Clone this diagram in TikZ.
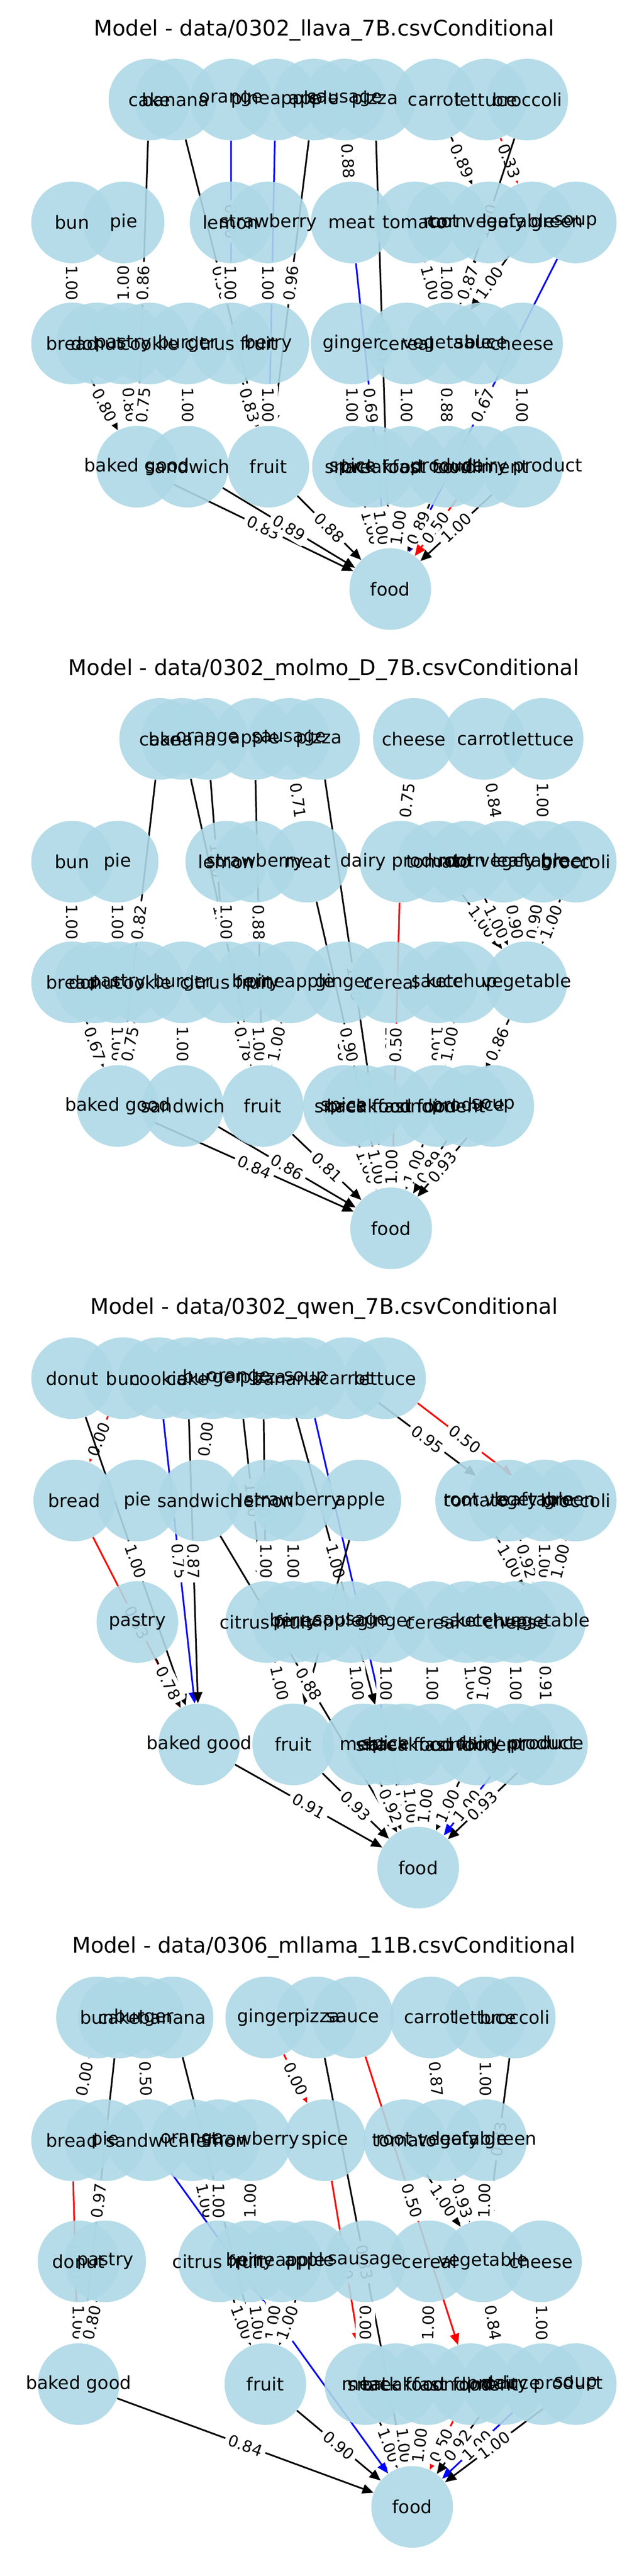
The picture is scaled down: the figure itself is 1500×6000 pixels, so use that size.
\documentclass[tikz,border=0pt]{standalone}
\usepackage{fontspec}
\setmainfont{DejaVu Sans}
\usetikzlibrary{arrows.meta}

\definecolor{nodeblue}{HTML}{ADD8E6}

\tikzset{
  fnode/.style={circle, minimum size=1.9cm, inner sep=0pt},
  flab/.style={font=\fontsize{11.9}{14}\selectfont, text=black},
  link/.style={line width=1.1pt, -{Triangle[length=2.6mm,width=2.2mm]}},
  elab/.style={sloped, fill=white, rounded corners=2pt, inner sep=2.5pt,
    font=\fontsize{10.4}{12}\selectfont, text=black},
  ttl/.style={font=\fontsize{14.2}{17}\selectfont},
}

% all nodes: name/x/y/label (pixels, y downwards)
\def\foodnodes{%
  % llava
  acake/348/232/cake, abanana/409/232/banana, aorange/538/232/orange,
  apineapple/642/232/pineapple, aapple/731/232/apple, asausage/803/232/sausage,
  apizza/873/232/pizza, acarrot/1012/232/carrot, alettuce/1132/232/lettuce,
  abroccoli/1228/232/broccoli,
  abun/168/518/bun, apie/288/518/pie, alemon/537/518/lemon,
  astrawberry/625/518/strawberry, ameat/819/518/meat, atomato/966/518/tomato,
  acorn/1041/518/corn, arootveg/1139/518/root vegetable,
  aleafy/1240/518/leafy green, asoup/1341/518/soup,
  abread/168/800/bread, adonut/226/800/donut, apastry/287/800/pastry,
  acookie/348/800/cookie, aburger/437/800/burger, acitrus/538/800/citrus fruit,
  aberry/625/800/berry, aginger/819/800/ginger, acereal/947/800/cereal,
  avegetable/1041/800/vegetable, asauce/1120/800/sauce, acheese/1216/800/cheese,
  abaked/319/1087/baked good, asandwich/437/1087/sandwich, afruit/625/1087/fruit,
  aspice/822/1087/spice, asnack/870/1087/snack food,
  abreakfast/947/1087/breakfast food, aproduce/1041/1087/produce,
  acondiment/1120/1087/condiment, adairy/1216/1087/dairy product,
  afood/909/1372/food,
  % molmo
  bcake/373/1721/cake, bbanana/424/1721/banana, borange/483/1721/orange,
  bapple/593/1721/apple, bsausage/673/1721/sausage, bpizza/743/1721/pizza,
  bcheese/964/1721/cheese, bcarrot/1127/1721/carrot, blettuce/1264/1721/lettuce,
  bbun/168/2007/bun, bpie/274/2007/pie, blemon/527/2007/lemon,
  bstrawberry/594/2007/strawberry, bmeat/716/2007/meat,
  bdairy/933/2007/dairy product, btomato/1021/2007/tomato, bcorn/1087/2007/corn,
  brootveg/1173/2007/root vegetable, bleafy/1264/2007/leafy green,
  bbroccoli/1341/2007/broccoli,
  bbread/168/2288/bread, bdonut/221/2288/donut, bpastry/274/2288/pastry,
  bcookie/332/2288/cookie, bburger/426/2288/burger, bcitrus/527/2288/citrus fruit,
  bberry/596/2288/berry, bpineapple/676/2288/pineapple, bginger/801/2288/ginger,
  bcereal/911/2288/cereal, bsauce/1019/2288/sauce, bketchup/1075/2288/ketchup,
  bvegetable/1226/2288/vegetable,
  bbaked/274/2576/baked good, bsandwich/426/2576/sandwich, bfruit/612/2576/fruit,
  bspice/801/2576/spice, bsnack/846/2576/snack food,
  bbreakfast/913/2576/breakfast food, bcondiment/1019/2576/condiment,
  bproduce/1091/2576/produce, bsoup/1149/2576/soup,
  bfood/911/2861/food,
  % qwen
  cdonut/168/3210/donut, cbun/287/3210/bun, ccookie/370/3210/cookie,
  ccake/437/3210/cake, cburger/495/3210/burger, corange/556/3210/orange,
  cpizza/613/3210/pizza, cbanana/665/3210/banana, csoup/712/3210/soup,
  ccarrot/806/3210/carrot, clettuce/897/3210/lettuce,
  cbread/173/3495/bread, cpie/320/3495/pie, csandwich/464/3495/sandwich,
  clemon/620/3495/lemon, cstrawberry/683/3495/strawberry, capple/839/3495/apple,
  ctomato/1109/3495/tomato, crootveg/1185/3495/root vegetable,
  cleafy/1269/3495/leafy green, cbroccoli/1341/3495/broccoli,
  cpastry/320/3778/pastry, ccitrus/620/3778/citrus fruit, cberry/683/3778/berry,
  cpineapple/740/3778/pineapple, csausage/817/3778/sausage,
  cginger/899/3778/ginger, ccereal/1008/3778/cereal, csauce/1087/3778/sauce,
  cketchup/1144/3778/ketchup, ccheese/1202/3778/cheese,
  cvegetable/1269/3778/vegetable,
  cbaked/464/4063/baked good, cfruit/683/4063/fruit, cmeat/846/4063/meat,
  cspice/899/4063/spice, csnack/942/4063/snack food,
  cbreakfast/1008/4063/breakfast food, ccondiment/1111/4063/condiment,
  cdairy/1202/4063/dairy product, cproduce/1274/4063/produce,
  cfood/974/4350/food,
  % mllama
  dbun/226/4699/bun, dcake/277/4699/cake, dburger/335/4699/burger,
  dbanana/402/4699/banana, dginger/620/4699/ginger, dpizza/738/4699/pizza,
  dsauce/822/4699/sauce, dcarrot/1003/4699/carrot, dlettuce/1130/4699/lettuce,
  dbroccoli/1199/4699/broccoli,
  dbread/168/4985/bread, dpie/245/4985/pie, dsandwich/344/4985/sandwich,
  dorange/447/4985/orange, dlemon/510/4985/lemon,
  dstrawberry/584/4985/strawberry, dspice/757/4985/spice,
  dtomato/942/4985/tomato, drootveg/1029/4985/root vegetable,
  dleafy/1132/4985/leafy green,
  ddonut/183/5267/donut, dpastry/245/5267/pastry, dcitrus/510/5267/citrus fruit,
  dberry/582/5267/berry, dpineapple/654/5267/pineapple, dapple/721/5267/apple,
  dsausage/851/5267/sausage, dcereal/1000/5267/cereal,
  dvegetable/1125/5267/vegetable, dcheese/1260/5267/cheese,
  dbaked/183/5553/baked good, dfruit/618/5553/fruit, dmeat/851/5553/meat,
  dsnack/923/5553/snack food, dbreakfast/995/5553/breakfast food,
  dcondiment/1096/5553/condiment, dproduce/1173/5553/produce,
  ddairy/1264/5553/dairy product, dsoup/1341/5553/soup,
  dfood/960/5839/food%
}

% all connectors: from/to/weight/colour
\def\foodlinks{%
  % llava
  asausage/ameat/0.88/black, acarrot/arootveg/0.89/black,
  alettuce/aleafy/0.33/red, aorange/acitrus/0.50/blue,
  apineapple/afruit/1.00/blue, abanana/afruit/0.50/black,
  acake/abaked/0.86/black, aapple/afruit/0.96/black, apizza/afood/1.00/black,
  abroccoli/avegetable/1.00/black, abun/abread/1.00/black,
  apie/apastry/1.00/black, alemon/acitrus/1.00/black,
  astrawberry/aberry/1.00/black, atomato/avegetable/1.00/black,
  acorn/avegetable/1.00/black, arootveg/avegetable/0.87/black,
  aleafy/avegetable/1.00/black, ameat/afood/0.69/blue,
  asauce/acondiment/1.00/black, asoup/afood/0.67/blue,
  abread/abaked/0.80/black, apastry/abaked/0.80/black,
  acookie/abaked/0.75/black, aburger/asandwich/1.00/black,
  acitrus/afruit/0.83/black, aberry/afruit/1.00/black,
  aginger/aspice/1.00/black, acereal/abreakfast/1.00/black,
  avegetable/aproduce/0.88/black, acheese/adairy/1.00/black,
  abaked/afood/0.83/black, asandwich/afood/0.89/black, afruit/afood/0.88/black,
  aspice/afood/1.00/black, asnack/afood/1.00/black,
  abreakfast/afood/1.00/black, aproduce/afood/0.89/black,
  acondiment/afood/0.50/red, adairy/afood/1.00/black,
  % molmo
  bsausage/bmeat/0.71/black, bcheese/bdairy/0.75/black,
  bcarrot/brootveg/0.84/black, blettuce/bleafy/1.00/black,
  borange/bcitrus/1.00/black, bcake/bbaked/0.82/black,
  bbanana/bfruit/1.00/black, bpizza/bfood/1.00/black,
  bbun/bbread/1.00/black, bpie/bpastry/1.00/black, blemon/bcitrus/1.00/black,
  bstrawberry/bberry/1.00/black, bapple/bfruit/0.88/black,
  btomato/bvegetable/1.00/black, bcorn/bvegetable/1.00/black,
  brootveg/bvegetable/0.90/black, bleafy/bvegetable/0.90/black,
  bbroccoli/bvegetable/1.00/black, bginger/bspice/1.00/black,
  bmeat/bfood/0.90/black, bcereal/bbreakfast/1.00/black,
  bdairy/bfood/0.50/red, bbread/bbaked/0.67/black,
  bpastry/bbaked/1.00/black, bcookie/bbaked/0.75/black,
  bburger/bsandwich/1.00/black, bcitrus/bfruit/0.78/black,
  bberry/bfruit/1.00/black, bpineapple/bfruit/1.00/black,
  bsauce/bcondiment/1.00/black, bketchup/bcondiment/1.00/black,
  bvegetable/bproduce/0.86/black, bbaked/bfood/0.84/black,
  bsandwich/bfood/0.86/black, bfruit/bfood/0.81/black,
  bspice/bfood/1.00/black, bsnack/bfood/1.00/black,
  bbreakfast/bfood/1.00/black, bcondiment/bfood/1.00/black,
  bproduce/bfood/0.89/black, bsoup/bfood/0.93/black,
  % qwen
  cbun/cbread/0.00/red, cburger/csandwich/0.00/black,
  ccarrot/crootveg/0.95/black, clettuce/cleafy/0.50/red,
  cdonut/cbaked/1.00/black, ccookie/cbaked/0.75/blue,
  ccake/cbaked/0.87/black, corange/ccitrus/1.00/black,
  cpizza/ccitrus/1.00/black, cbanana/cspice/1.00/black,
  csoup/cfood/1.00/blue, cbread/cbaked/0.33/red,
  clemon/ccitrus/1.00/black, cstrawberry/cberry/1.00/black,
  capple/cfruit/1.00/black, ctomato/cvegetable/1.00/black,
  crootveg/cvegetable/0.92/black, cleafy/cvegetable/1.00/black,
  cbroccoli/cvegetable/1.00/black, csandwich/cfood/0.88/black,
  cpastry/cbaked/0.78/black, ccitrus/cfruit/1.00/black,
  csausage/cmeat/1.00/black, cginger/cspice/1.00/black,
  ccereal/cbreakfast/1.00/black, csauce/ccondiment/1.00/black,
  cketchup/ccondiment/1.00/black, ccheese/cdairy/1.00/black,
  cvegetable/cproduce/0.91/black, cbaked/cfood/0.91/black,
  cfruit/cfood/0.93/black, cspice/cfood/1.00/black, cmeat/cfood/0.92/black,
  csnack/cfood/1.00/black, cbreakfast/cfood/1.00/black,
  ccondiment/cfood/1.00/black, cdairy/cfood/1.00/blue,
  cproduce/cfood/0.93/black,
  % mllama
  dbun/dbread/0.00/black, dburger/dsandwich/0.50/black,
  dginger/dspice/0.00/red, dcarrot/drootveg/0.87/black,
  dlettuce/dleafy/1.00/black, dcake/dbaked/0.97/black,
  dbanana/dfruit/1.00/black, dpizza/dfood/0.33/black,
  dsauce/dcondiment/0.50/red, dbroccoli/dvegetable/0.83/black,
  dorange/dcitrus/1.00/black, dlemon/dcitrus/1.00/black,
  dstrawberry/dberry/1.00/black, dtomato/dvegetable/1.00/black,
  drootveg/dvegetable/0.93/black, dleafy/dvegetable/1.00/black,
  dbread/dbaked/0.50/red, dspice/dmeat/0.00/red,
  dsandwich/dfood/1.00/blue, ddonut/dbaked/1.00/black,
  dpastry/dbaked/0.80/black, dcitrus/dfruit/1.00/black,
  dberry/dfruit/1.00/black, dpineapple/dfruit/1.00/black,
  dapple/dfruit/1.00/black, dsausage/dmeat/0.00/black,
  dcereal/dbreakfast/1.00/black, dvegetable/dproduce/0.84/black,
  dcheese/ddairy/1.00/black, dbaked/dfood/0.84/black,
  dfruit/dfood/0.90/black, dmeat/dfood/1.00/black, dsnack/dfood/1.00/black,
  dbreakfast/dfood/1.00/black, dcondiment/dfood/0.50/red,
  dproduce/dfood/0.92/black, ddairy/dfood/1.00/blue, dsoup/dfood/1.00/black%
}

\begin{document}
\begin{tikzpicture}[x=0.01cm, y=-0.01cm]
  \useasboundingbox (0,0) rectangle (1500,6000);

  % titles
  \node[ttl] (atitle) at (755,70) {Model - data/0302\_llava\_7B.csvConditional};
  \node[ttl] (btitle) at (754,1559) {Model - data/0302\_molmo\_D\_7B.csvConditional};
  \node[ttl] (ctitle) at (755,3048) {Model - data/0302\_qwen\_7B.csvConditional};
  \node[ttl] (dtitle) at (754,4536) {Model - data/0306\_mllama\_11B.csvConditional};

  % place the nodes (nothing drawn yet)
  \foreach \nm/\x/\y/\lbl in \foodnodes
    \node[fnode] (\nm) at (\x,\y) {};

  % connectors with their weights
  \foreach \src/\dst/\val/\col in \foodlinks
    \draw[link, draw=\col] (\src) -- node[elab] {\val} (\dst);

  % discs on top of the connectors
  \foreach \nm/\x/\y/\lbl in \foodnodes
    \fill[nodeblue, fill opacity=0.9] (\nm) circle[radius=0.95cm];

  % node texts last
  \foreach \nm/\x/\y/\lbl in \foodnodes
    \node[flab] at (\nm) {\lbl};
\end{tikzpicture}
\end{document}
